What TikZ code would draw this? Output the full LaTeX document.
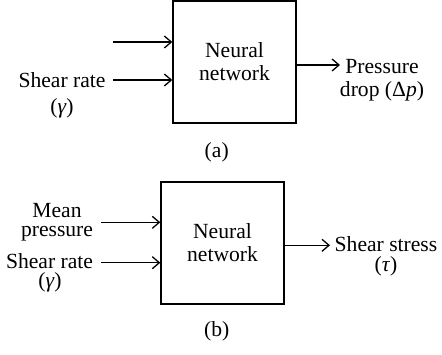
\documentclass[tikz,border=0pt]{standalone}
\usepackage{fontspec}
\setmainfont{Liberation Serif}
\usetikzlibrary{arrows.meta}
\begin{document}
\begin{tikzpicture}[x=0.5pt,y=-0.5pt,
  lbl/.style={anchor=base,inner sep=0pt,font=\fontsize{10.8}{12}\selectfont},
  nnbox/.style={draw,line width=0.7pt,minimum width=61.5pt,minimum height=61pt,
    inner sep=0pt,align=center,font=\fontsize{10.8}{11.5}\selectfont},
  arr/.style={line width=0.65pt,-{Straight Barb[length=3.5pt,width=6pt]}}]
\useasboundingbox (0,0) rectangle (442,354);

% (a): shear rate -> pressure drop
\node[nnbox] (boxA) at (234.5,62) {Neural\\network};
\node[lbl] (srA) at (62,87) {Shear rate};
\node[lbl] (gA) at (62,113) {(\textit{γ})};
\coordinate (inA1) at (113,42);
\coordinate (inA2) at (113,80);
\draw[arr] (inA1) -- (inA1 -| boxA.west);
\draw[arr] (inA2) -- (inA2 -| boxA.west);
\coordinate (outA) at (340,65);
\draw[arr] (outA -| boxA.east) -- (outA);
\node[lbl] (pA) at (382,73) {Pressure};
\node[lbl] (dA) at (382,96) {drop (Δ\textit{p})};
\node[lbl] (capA) at (216.7,157) {(a)};

% (b): mean pressure and shear rate -> shear stress
\node[nnbox] (boxB) at (222.5,243) {Neural\\network};
\node[lbl] (mB) at (57,217) {Mean};
\node[lbl] (prB) at (57,236.5) {pressure};
\node[lbl] (srB) at (49.5,268) {Shear rate};
\node[lbl] (gB) at (50,287) {(\textit{γ})};
\coordinate (inB1) at (101,222.3);
\coordinate (inB2) at (101,262.7);
\draw[arr] (inB1) -- (inB1 -| boxB.west);
\draw[arr] (inB2) -- (inB2 -| boxB.west);
\coordinate (outB) at (330,245.3);
\draw[arr] (outB -| boxB.east) -- (outB);
\node[lbl] (ssB) at (386,251.5) {Shear stress};
\node[lbl] (tB) at (386,271) {(\textit{τ})};
\node[lbl] (capB) at (216.7,336) {(b)};
\end{tikzpicture}
\end{document}
